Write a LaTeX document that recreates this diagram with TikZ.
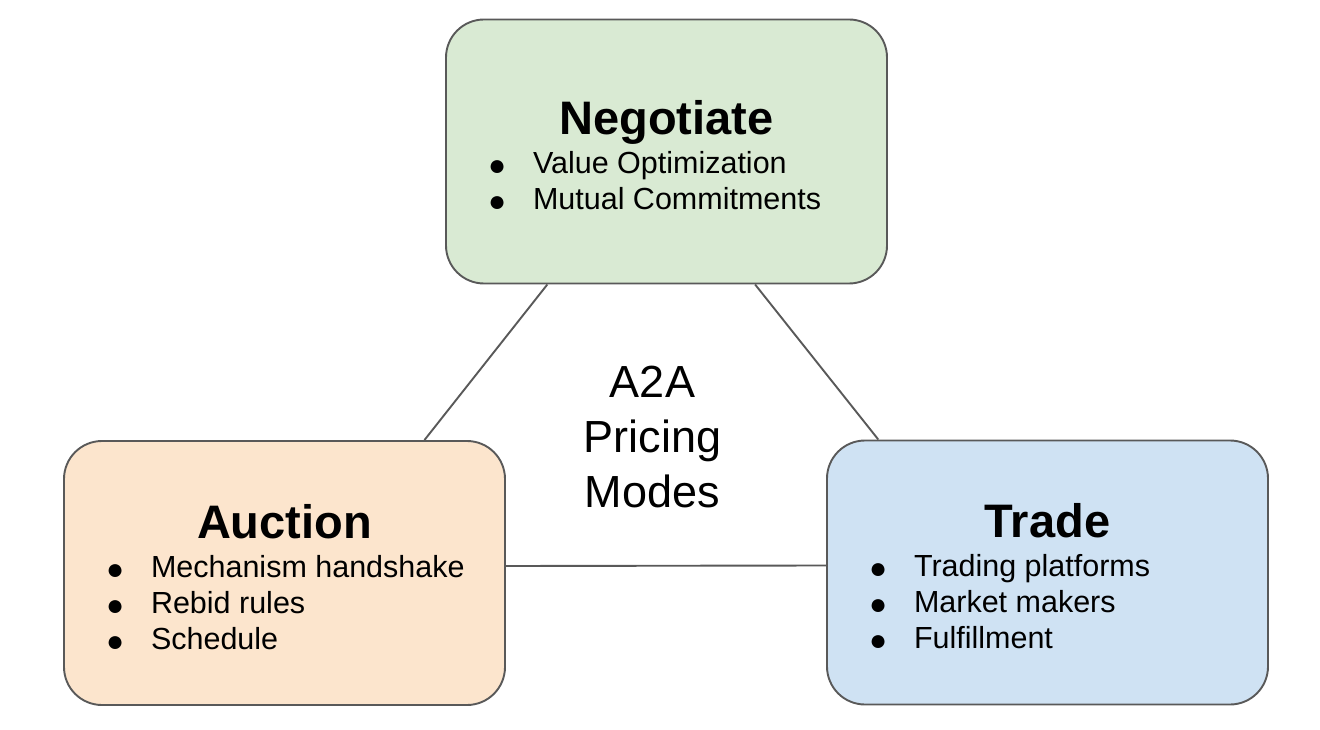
\documentclass[tikz,border=0pt]{standalone}
\usepackage{fontspec}
\setmainfont{Liberation Sans}
\usetikzlibrary{positioning,calc}

\definecolor{edgegray}{HTML}{595959}
\definecolor{negfill}{HTML}{D9EAD3}
\definecolor{aucfill}{HTML}{FCE5CD}
\definecolor{trdfill}{HTML}{CFE2F3}

% one bullet line inside a mode box
\newcommand{\modeitem}[1]{\hspace*{42pt}\makebox[45pt][l]{\raisebox{-2pt}[0pt][0pt]{\fontsize{30}{30}\selectfont ●}}#1}
\newcommand{\modetitle}[1]{\vspace*{8pt}\centering{\fontsize{47}{50}\selectfont\bfseries #1\par}\raggedright\vspace{3pt}}

\begin{document}
\begin{tikzpicture}[
        x=1pt, y=-1pt,
        mode/.style={rectangle, draw=edgegray, line width=1.9pt, rounded corners=38pt, minimum width=441pt, minimum height=264pt, inner sep=0pt, font=\fontsize{30.5}{36}\selectfont},
        link/.style={draw=edgegray, line width=1.9pt}
    ]
        \useasboundingbox (0,0) rectangle (1320,730);

        \node[mode, fill=negfill] (neg) at (666.5,151.5) {\parbox{441pt}{\modetitle{Negotiate}
            \modeitem{Value Optimization}\\
            \modeitem{Mutual Commitments}}};
        \node[mode, fill=aucfill] (auc) at (284.5,573) {\parbox{441pt}{\modetitle{Auction}
            \modeitem{Mechanism handshake}\\
            \modeitem{Rebid rules}\\
            \modeitem{Schedule}}};
        \node[mode, fill=trdfill] (trd) at (1047.5,572.5) {\parbox{441pt}{\modetitle{Trade}
            \modeitem{Trading platforms}\\
            \modeitem{Market makers}\\
            \modeitem{Fulfillment}}};

        \node[align=center, font=\fontsize{45}{55}\selectfont] (hub) at (652.5,437) {A2A\\Pricing\\Modes};

        \draw[link] ($(neg.south west)!0.231!(neg.south east)$) -- ($(auc.north west)!0.816!(auc.north east)$);
        \draw[link] ($(neg.south west)!0.70!(neg.south east)$) -- ($(trd.north west)!0.118!(trd.north east)$);
        \draw[link] ([yshift=7pt]auc.east) -- ([yshift=7pt]trd.west);
    \end{tikzpicture}
\end{document}
